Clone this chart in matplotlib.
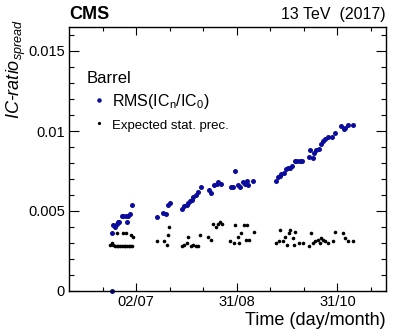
import matplotlib
matplotlib.use("Agg")
import matplotlib.pyplot as plt
from matplotlib.ticker import FixedLocator, MultipleLocator, FixedFormatter

plt.rcParams['font.family'] = 'Liberation Sans'
plt.rcParams['mathtext.fontset'] = 'custom'
plt.rcParams['mathtext.rm'] = 'Liberation Sans'
plt.rcParams['mathtext.it'] = 'Liberation Sans:italic'
plt.rcParams['mathtext.bf'] = 'Liberation Sans:bold'

# x values: day of year 2017
rms_day = [168.9, 168.9, 169.5, 170.5, 171.5, 172.4, 173.0, 174.5, 175.4, 177.0, 177.4, 178.4, 179.4, 180.4,
           195.4, 199.3, 200.9, 202.3, 203.3,
           210.5, 211.7, 213.3, 214.2, 215.2, 216.4, 217.2, 218.8, 220.2, 221.6,
           226.2, 227.6, 229.6, 231.2, 232.1, 233.6,
           239.5, 240.7, 242.1, 243.5, 244.7, 246.7, 248.1, 249.1, 250.0, 253.0,
           266.6, 267.6, 268.6, 269.6, 270.9, 272.4, 273.6, 274.5, 276.0, 277.5, 278.9, 280.5, 281.9,
           285.9, 286.9, 288.3, 288.9, 290.5, 291.8, 293.3, 294.5, 295.8, 297.2, 299.8, 301.4,
           305.2, 306.8, 307.8, 309.4, 312.1]
rms_val = [0.0000, 0.0036, 0.0041, 0.0040, 0.0042, 0.0043, 0.0043, 0.0047, 0.0047, 0.0047, 0.0043, 0.0047, 0.0048, 0.0054,
           0.00465, 0.0049, 0.0048, 0.0054, 0.0055,
           0.0051, 0.0053, 0.0054, 0.0055, 0.0056, 0.0057, 0.0059, 0.0060, 0.0062, 0.0065,
           0.0063, 0.0061, 0.0066, 0.0067, 0.0068, 0.0067,
           0.0065, 0.0065, 0.0075, 0.0066, 0.0065, 0.0068, 0.0067, 0.0069, 0.0066, 0.0069,
           0.0069, 0.0071, 0.0072, 0.0073, 0.0074, 0.0076, 0.0077, 0.0077, 0.0078, 0.0081, 0.0081, 0.0081, 0.0081,
           0.0084, 0.0088, 0.0083, 0.0086, 0.0088, 0.0089, 0.0092, 0.0094, 0.0095, 0.0096, 0.0096, 0.0099,
           0.0103, 0.0101, 0.0102, 0.0104, 0.0104]

stat_day = [167.5, 168.5, 169.5, 170.5, 171.5, 172.5, 173.5, 174.5, 175.5, 176.5, 177.5, 178.5, 179.5, 180.5,
            171.8, 175.1, 177.0, 180.0, 181.0,
            195.7, 199.7, 201.3, 202.3, 202.9,
            210.6, 211.7, 213.3, 214.2, 215.7, 217.2, 218.8, 220.2, 221.2,
            225.8, 227.6, 229.1, 230.8, 232.1, 233.1, 234.2,
            239.1, 241.1, 242.1, 243.5, 244.5, 245.5, 247.5, 249.4, 248.7, 250.6, 253.4,
            266.6, 268.0, 269.0, 270.6, 271.8, 273.0, 273.9, 274.9, 276.6, 277.3, 277.9, 280.3, 282.3,
            285.9, 287.3, 288.3, 289.9, 291.3, 292.5, 293.5, 294.5, 295.8, 297.5, 300.4, 301.4,
            306.4, 307.8, 309.4, 312.4]
stat_val = [0.0029, 0.0030, 0.0029, 0.0028, 0.0028, 0.0028, 0.0028, 0.0028, 0.0028, 0.0028, 0.0028, 0.0028, 0.0028, 0.0028,
            0.0036, 0.0036, 0.0036, 0.0035, 0.0034,
            0.0031, 0.0031, 0.0029, 0.0035, 0.0040,
            0.0028, 0.0029, 0.0030, 0.0034, 0.0028, 0.0029, 0.0028, 0.0028, 0.0035,
            0.0034, 0.0032, 0.0042, 0.0040, 0.0042, 0.0043, 0.0042,
            0.0031, 0.0030, 0.0041, 0.0034, 0.0030, 0.0036, 0.0041, 0.0041, 0.0032, 0.0032, 0.0037,
            0.0030, 0.0031, 0.0038, 0.0031, 0.0034, 0.0029, 0.0036, 0.0038, 0.0033, 0.0029, 0.0037, 0.0030, 0.0030,
            0.0028, 0.0036, 0.0030, 0.0031, 0.0032, 0.0030, 0.0033, 0.0032, 0.0031, 0.0030, 0.0031, 0.0037,
            0.0036, 0.0033, 0.0031, 0.0031]

major_days = [183, 243, 303]
major_labels = ['02/07', '31/08', '31/10']
minor_days = [163, 203, 223, 263, 283, 323]

fig = plt.figure(figsize=(4.07, 3.35), dpi=100)
ax = fig.add_axes([69 / 407, 44 / 335, 317 / 407, 264 / 335])

ax.plot(rms_day, rms_val, 'o', color='#0b0b9c', markersize=3.6, markeredgewidth=0,
        label=r'RMS(IC$_\mathrm{n}$/IC$_\mathrm{0}$)', clip_on=False)
ax.plot(stat_day, stat_val, 'o', color='black', markersize=2.6, markeredgewidth=0,
        label='Expected stat. prec.')

ax.set_xlim(143, 332)
ax.set_ylim(0, 0.0165)

ax.xaxis.set_major_locator(FixedLocator(major_days))
ax.xaxis.set_major_formatter(FixedFormatter(major_labels))
ax.xaxis.set_minor_locator(FixedLocator(minor_days))
ax.yaxis.set_major_locator(FixedLocator([0, 0.005, 0.01, 0.015]))
ax.yaxis.set_major_formatter(FixedFormatter(['0', '0.005', '0.01', '0.015']))
ax.yaxis.set_minor_locator(MultipleLocator(0.001))

ax.tick_params(which='both', direction='in', top=True, right=True, labelsize=10.5, width=0.8)
ax.tick_params(axis='x', which='major', length=6, pad=3)
ax.tick_params(axis='x', which='minor', length=3)
ax.tick_params(axis='y', which='major', length=7, pad=3)
ax.tick_params(axis='y', which='minor', length=3.5)
for s in ax.spines.values():
    s.set_linewidth(1.0)

ax.set_xlabel('Time (day/month)', fontsize=13, loc='right')
ax.xaxis.set_label_coords(1.0, -0.078)
ax.set_ylabel('IC-ratio$_{spread}$', fontsize=13, style='italic', loc='top')
ax.yaxis.set_label_coords(-0.13, 1.03)

leg = ax.legend(loc='upper left', bbox_to_anchor=(0.03, 0.865), frameon=False, title='Barrel',
                alignment='left', fontsize=11.5, title_fontsize=12, handlelength=1.6,
                handletextpad=0.0, labelspacing=0.4, borderpad=0, numpoints=1, markerscale=0.9)
leg.get_texts()[1].set_fontsize(9.5)

fig.text(69 / 407, 0.942, 'CMS', fontsize=13, fontweight='bold', ha='left', va='baseline')
fig.text(386 / 407, 0.942, '13 TeV  (2017)', fontsize=11.5, ha='right', va='baseline')

fig.savefig('out.png', dpi=100)
